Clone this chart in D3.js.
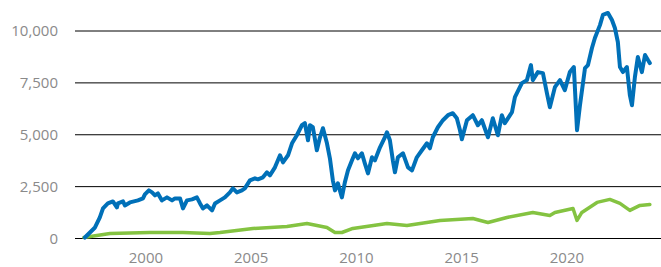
<!DOCTYPE html>
<html>
<head>
<meta charset="utf-8">
<script src="https://d3js.org/d3.v7.min.js"></script>
<style>
	body { margin: 0; background: #fff; }
	.tick-label { font-family: "Open Sans", sans-serif; font-size: 15px; fill: #8a8a8a; }
	.grid { stroke: #000; stroke-width: 1; }
	.series { fill: none; stroke-linejoin: round; stroke-linecap: round; }
</style>
</head>
<body>
<svg id="chart" width="661" height="267"></svg>
<script>
/*
** Index (blue) versus the slower series (green).
*/
var yTicks = [0, 2500, 5000, 7500, 10000];
var xTicks = [2000, 2005, 2010, 2015, 2020];

var blueYears = [1997.10, 1997.58, 1997.81, 1997.96, 1998.19, 1998.43, 1998.62, 1998.67,
	1998.91, 1999.00, 1999.24, 1999.62, 1999.86, 1999.95, 2000.14, 2000.29, 2000.43,
	2000.57, 2000.76, 2001.00, 2001.24, 2001.38, 2001.62, 2001.76, 2001.95, 2002.19,
	2002.42, 2002.57, 2002.71, 2002.90, 2003.14, 2003.28, 2003.52, 2003.75, 2003.99,
	2004.13, 2004.32, 2004.56, 2004.70, 2004.94, 2005.18, 2005.32, 2005.56, 2005.75,
	2005.89, 2006.13, 2006.37, 2006.51, 2006.75, 2006.94, 2007.17, 2007.41, 2007.55,
	2007.70, 2007.79, 2007.93, 2008.12, 2008.27, 2008.41, 2008.60, 2008.74, 2008.88,
	2008.98, 2009.12, 2009.31, 2009.45, 2009.60, 2009.79, 2009.93, 2010.07, 2010.26,
	2010.40, 2010.55, 2010.74, 2010.88, 2011.12, 2011.35, 2011.45, 2011.59, 2011.73,
	2011.83, 2011.97, 2012.21, 2012.45, 2012.64, 2012.87, 2013.11, 2013.35, 2013.49,
	2013.63, 2013.87, 2014.11, 2014.35, 2014.58, 2014.77, 2014.92, 2015.01, 2015.25,
	2015.53, 2015.77, 2015.96, 2016.25, 2016.48, 2016.72, 2016.91, 2017.05, 2017.39,
	2017.53, 2017.86, 2018.10, 2018.29, 2018.38, 2018.62, 2018.86, 2019.05, 2019.19,
	2019.43, 2019.67, 2019.90, 2020.14, 2020.33, 2020.48, 2020.62, 2020.86, 2021.00,
	2021.19, 2021.33, 2021.57, 2021.71, 2021.95, 2022.14, 2022.28, 2022.42, 2022.52,
	2022.66, 2022.85, 2022.99, 2023.09, 2023.23, 2023.37, 2023.56, 2023.71, 2023.85,
	2023.94];
var blueValues = [48, 531, 1014, 1449, 1691, 1787, 1498, 1691,
	1787, 1594, 1739, 1836, 1932, 2126, 2319, 2222, 2077,
	2174, 1836, 1981, 1836, 1932, 1932, 1449, 1836, 1884,
	1981, 1691, 1449, 1594, 1353, 1691, 1836, 1981, 2222,
	2416, 2222, 2319, 2416, 2802, 2899, 2850, 2947, 3188,
	3044, 3430, 4010, 3672, 4010, 4589, 4976, 5459, 5556,
	4734, 5459, 5362, 4251, 4879, 5314, 4589, 3865, 2802,
	2319, 2657, 1981, 2705, 3285, 3768, 4106, 3865, 4106,
	3623, 3140, 3913, 3768, 4396, 4879, 5121, 4734, 3768,
	3188, 3913, 4106, 3430, 3285, 3913, 4251, 4589, 4348,
	4879, 5362, 5701, 5942, 6039, 5797, 5217, 4783, 5701,
	5942, 5459, 5701, 4879, 5797, 4976, 5942, 5556, 6087,
	6812, 7488, 7633, 8358, 7633, 8019, 7971, 7005, 6329,
	7295, 7633, 7150, 8019, 8261, 5217, 6425, 8213, 8358,
	9179, 9662, 10284, 10773, 10870, 10532, 10146, 9469, 8261,
	8019, 8261, 6908, 6425, 7778, 8744, 8019, 8841, 8600,
	8454];

var greenYears = [1997.05, 1998.29, 2000.19, 2001.76, 2003.04, 2003.52, 2005.08, 2006.70,
	2007.65, 2008.60, 2008.98, 2009.31, 2009.83, 2011.45, 2012.40, 2013.97, 2015.53,
	2016.25, 2017.15, 2018.38, 2019.19, 2019.43, 2020.29, 2020.48, 2020.71, 2021.43,
	2022.04, 2022.52, 2022.99, 2023.47, 2023.94];
var greenValues = [48, 242, 290, 290, 242, 290, 483, 580,
	725, 531, 290, 290, 483, 725, 628, 870, 966,
	773, 1014, 1256, 1111, 1256, 1449, 870, 1256, 1739,
	1884, 1691, 1353, 1594, 1643];

var svg = d3.select("#chart");

var xScale = d3.scaleLinear()
	.domain([1996.63, 2024.47])
	.range([75, 661]);

var yScale = d3.scaleLinear()
	.domain([0, 10000])
	.range([238.5, 31]);

// horizontal grid lines
svg.append("g")
	.selectAll("line")
	.data(yTicks)
	.enter()
	.append("line")
		.attr("class", "grid")
		.attr("x1", 75)
		.attr("x2", 661)
		.attr("y1", function(d) { return yScale(d); })
		.attr("y2", function(d) { return yScale(d); });

// y tick labels
svg.append("g")
	.selectAll("text")
	.data(yTicks)
	.enter()
	.append("text")
		.attr("class", "tick-label")
		.attr("x", 58)
		.attr("y", function(d) { return yScale(d); })
		.attr("dy", "0.36em")
		.attr("text-anchor", "end")
		.text(function(d) { return d3.format(",")(d); });

// x tick labels
svg.append("g")
	.selectAll("text")
	.data(xTicks)
	.enter()
	.append("text")
		.attr("class", "tick-label")
		.attr("x", function(d) { return xScale(d); })
		.attr("y", 263)
		.attr("text-anchor", "middle")
		.text(function(d) { return d; });

var line = d3.line()
	.x(function(d) { return xScale(d[0]); })
	.y(function(d) { return yScale(d[1]); });

// green first so the blue sits on top
svg.append("path")
	.attr("class", "series")
	.attr("stroke", "#84c341")
	.attr("stroke-width", 3.5)
	.attr("d", line(d3.zip(greenYears, greenValues)));

svg.append("path")
	.attr("class", "series")
	.attr("stroke", "#0070b8")
	.attr("stroke-width", 4)
	.attr("d", line(d3.zip(blueYears, blueValues)));
</script>
</body>
</html>
